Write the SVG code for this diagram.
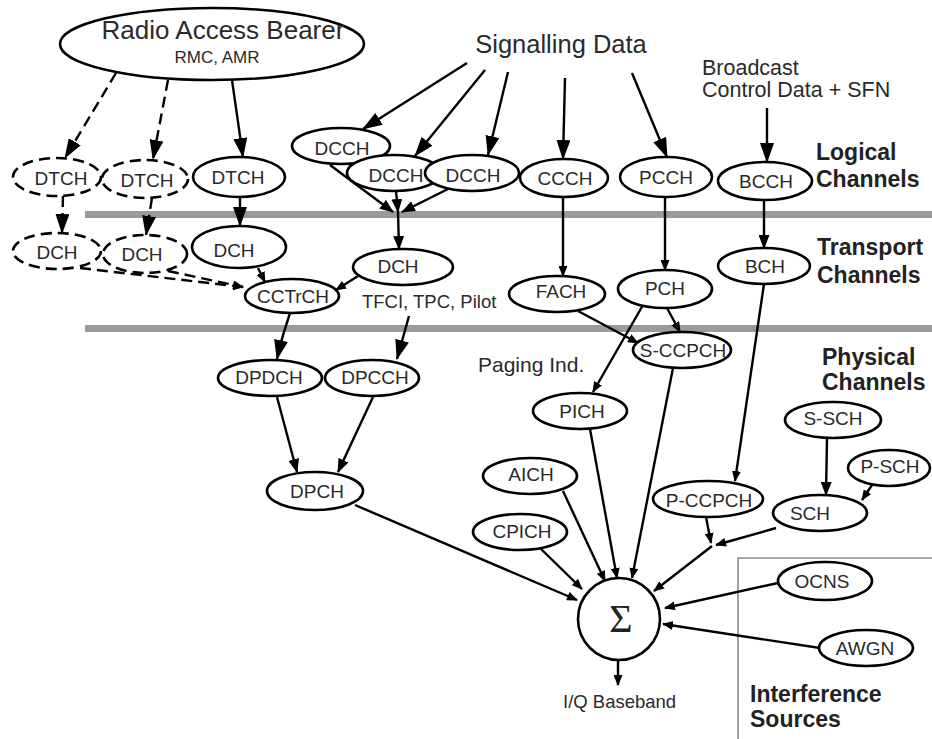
<svg xmlns="http://www.w3.org/2000/svg" width="932" height="739" viewBox="0 0 932 739">
  <style>
    .node { fill: #fff; stroke: #000; stroke-width: 2.6; }
    .dash { stroke-dasharray: 11 6; }
    .lbl { font-family: "Liberation Sans", Arial, sans-serif; font-size: 19px; fill: #2a2a2a; text-anchor: middle; }
    .note { font-family: "Liberation Sans", Arial, sans-serif; fill: #2a2a2a; }
    .hdr { font-family: "Liberation Sans", Arial, sans-serif; font-size: 23px; font-weight: bold; fill: #222; }
    .sep { fill: #9a9a9a; }
    #connectors line, #connectors path { stroke: #000; stroke-width: 2.4; fill: none; }
    .big { marker-end: url(#ah-l); }
    .mid { marker-end: url(#ah-m); }
    .sml { marker-end: url(#ah-s); }
  </style>
  <defs>
    <marker id="ah-l" viewBox="0 0 20 14" markerWidth="20" markerHeight="14" refX="19" refY="7" orient="auto" markerUnits="userSpaceOnUse">
      <path d="M0,0 L20,7 L0,14 z" fill="#000"/>
    </marker>
    <marker id="ah-m" viewBox="0 0 14 11" markerWidth="14" markerHeight="11" refX="13" refY="5.5" orient="auto" markerUnits="userSpaceOnUse">
      <path d="M0,0 L14,5.5 L0,11 z" fill="#000"/>
    </marker>
    <marker id="ah-s" viewBox="0 0 11 9" markerWidth="11" markerHeight="9" refX="10" refY="4.5" orient="auto" markerUnits="userSpaceOnUse">
      <path d="M0,0 L11,4.5 L0,9 z" fill="#000"/>
    </marker>
  </defs>

  <rect width="932" height="739" fill="#fff"/>

  <!-- layer separators -->
  <rect class="sep" x="85" y="211" width="847" height="7"/>
  <rect class="sep" x="85" y="325" width="847" height="7"/>

  <!-- interference sources frame -->
  <path d="M738,739 V558 H932" fill="none" stroke="#8a8a8a" stroke-width="1.6"/>

  <!-- free-standing labels -->
  <text class="note" x="561" y="53" font-size="25.5" text-anchor="middle">Signalling Data</text>
  <text class="note" x="702" y="75" font-size="21.5">Broadcast</text>
  <text class="note" x="702" y="97" font-size="21.5">Control Data + SFN</text>
  <text class="note" x="362" y="308" font-size="18.5">TFCI, TPC, Pilot</text>
  <text class="note" x="478" y="372" font-size="21">Paging Ind.</text>
  <text class="note" x="563" y="708" font-size="18.5">I/Q Baseband</text>
  <text class="hdr" x="816" y="160">Logical</text>
  <text class="hdr" x="816" y="187">Channels</text>
  <text class="hdr" x="817" y="255">Transport</text>
  <text class="hdr" x="817" y="283">Channels</text>
  <text class="hdr" x="822" y="365">Physical</text>
  <text class="hdr" x="822" y="390">Channels</text>
  <text class="hdr" x="750" y="702">Interference</text>
  <text class="hdr" x="750" y="727">Sources</text>

  <g id="connectors">
    <line class="big dash" x1="116" y1="73" x2="65" y2="158"/>
    <line class="big dash" x1="168" y1="80" x2="153" y2="159"/>
    <line class="big" x1="232" y1="80" x2="243" y2="157"/>
    <line class="big" x1="467" y1="63" x2="363" y2="129"/>
    <line class="big" x1="485" y1="70" x2="415" y2="156"/>
    <line class="big" x1="508" y1="72" x2="488" y2="155"/>
    <line class="big" x1="565" y1="78" x2="563" y2="159"/>
    <line class="big" x1="632" y1="73" x2="667" y2="157"/>
    <line class="big" x1="767" y1="108" x2="767" y2="162"/>
    <line class="big dash" x1="63" y1="196" x2="62" y2="233"/>
    <line class="big dash" x1="152" y1="198" x2="146" y2="235"/>
    <line class="big" x1="240" y1="197" x2="240" y2="226"/>
    <line class="mid" x1="330" y1="165" x2="393" y2="212"/>
    <line class="mid" x1="396" y1="191" x2="398" y2="212"/>
    <line class="mid" x1="448" y1="189" x2="402" y2="212"/>
    <line class="mid" x1="398" y1="212" x2="399" y2="249"/>
    <line class="sml dash" x1="80" y1="268" x2="243" y2="287"/>
    <line class="sml dash" x1="168" y1="271" x2="243" y2="287"/>
    <line class="sml" x1="258" y1="268" x2="265" y2="282"/>
    <line class="sml" x1="358" y1="276" x2="336" y2="290"/>
    <path class="big" d="M290,313 Q282,336 277,359"/>
    <line class="big" x1="409" y1="316" x2="397" y2="359"/>
    <line class="mid" x1="277" y1="397" x2="297" y2="472"/>
    <line class="mid" x1="373" y1="397" x2="338" y2="472"/>
    <line class="sml" x1="355" y1="505" x2="577" y2="600"/>
    <line class="sml" x1="563" y1="197" x2="563" y2="276"/>
    <line class="sml" x1="665" y1="198" x2="665" y2="270"/>
    <line class="mid" x1="764" y1="200" x2="764" y2="248"/>
    <line class="sml" x1="578" y1="311" x2="638" y2="343"/>
    <line class="sml" x1="667" y1="308" x2="680" y2="332"/>
    <line class="sml" x1="643" y1="305" x2="593" y2="392"/>
    <line class="sml" x1="764" y1="284" x2="735" y2="481"/>
    <line class="sml" x1="673" y1="368" x2="632" y2="578"/>
    <line class="sml" x1="590" y1="429" x2="617" y2="578"/>
    <line class="sml" x1="563" y1="491" x2="605" y2="581"/>
    <line class="sml" x1="540" y1="548" x2="582" y2="589"/>
    <line class="mid" x1="827" y1="438" x2="826" y2="495"/>
    <line class="sml" x1="872" y1="485" x2="862" y2="500"/>
    <line class="sml" x1="706" y1="517" x2="711" y2="543"/>
    <line class="sml" x1="776" y1="528" x2="716" y2="545"/>
    <line class="sml" x1="712" y1="546" x2="654" y2="591"/>
    <line class="sml" x1="778" y1="583" x2="665" y2="608"/>
    <line class="sml" x1="820" y1="648" x2="663" y2="624"/>
    <line class="sml" x1="618" y1="660" x2="618" y2="685"/>
  </g>

  <!-- radio access bearer -->
  <g id="rab">
    <ellipse class="node" cx="212" cy="44" rx="152" ry="36"/>
    <text class="note" x="223" y="39" font-size="26" text-anchor="middle">Radio Access Bearer</text>
    <text class="note" x="217" y="63" font-size="17" text-anchor="middle">RMC, AMR</text>
  </g>

  <!-- logical channels -->
  <g id="dtch1"><ellipse class="node dash" cx="57" cy="177" rx="44" ry="19"/><text class="lbl" x="61" y="185">DTCH</text></g>
  <g id="dtch2"><ellipse class="node dash" cx="145" cy="179" rx="43" ry="19"/><text class="lbl" x="147" y="187">DTCH</text></g>
  <g id="dtch3"><ellipse class="node" cx="239" cy="177" rx="46" ry="20"/><text class="lbl" x="238" y="184">DTCH</text></g>
  <g id="dcch1"><ellipse class="node" cx="341" cy="146" rx="49" ry="18"/><text class="lbl" x="342" y="155">DCCH</text></g>
  <g id="dcch2"><ellipse class="node" cx="394" cy="173" rx="47" ry="18"/><text class="lbl" x="396" y="182">DCCH</text></g>
  <g id="dcch3"><ellipse class="node" cx="472" cy="173" rx="47" ry="18"/><text class="lbl" x="473" y="182">DCCH</text></g>
  <g id="ccch"><ellipse class="node" cx="564" cy="178" rx="44" ry="19"/><text class="lbl" x="565" y="185">CCCH</text></g>
  <g id="pcch"><ellipse class="node" cx="666" cy="177" rx="46" ry="20"/><text class="lbl" x="666" y="184">PCCH</text></g>
  <g id="bcch"><ellipse class="node" cx="765" cy="181" rx="47" ry="19"/><text class="lbl" x="766" y="188">BCCH</text></g>

  <!-- transport channels -->
  <g id="dch1"><ellipse class="node dash" cx="57" cy="251" rx="44" ry="18"/><text class="lbl" x="57" y="259">DCH</text></g>
  <g id="dch2"><ellipse class="node dash" cx="145" cy="254" rx="42" ry="19"/><text class="lbl" x="142" y="261">DCH</text></g>
  <g id="dch3"><ellipse class="node" cx="239" cy="247" rx="47" ry="21"/><text class="lbl" x="234" y="257">DCH</text></g>
  <g id="dch4"><ellipse class="node" cx="403" cy="267" rx="50" ry="18"/><text class="lbl" x="398" y="273">DCH</text></g>
  <g id="cctrch"><ellipse class="node" cx="292" cy="296" rx="47" ry="17"/><text class="lbl" x="293" y="303">CCTrCH</text></g>
  <g id="fach"><ellipse class="node" cx="557" cy="294" rx="48" ry="18"/><text class="lbl" x="561" y="298">FACH</text></g>
  <g id="pch"><ellipse class="node" cx="665" cy="289" rx="47" ry="19"/><text class="lbl" x="665" y="295">PCH</text></g>
  <g id="bch"><ellipse class="node" cx="764" cy="266" rx="46" ry="18"/><text class="lbl" x="765" y="273">BCH</text></g>

  <!-- physical channels -->
  <g id="dpdch"><ellipse class="node" cx="270" cy="378" rx="52" ry="18"/><text class="lbl" x="269" y="384">DPDCH</text></g>
  <g id="dpcch"><ellipse class="node" cx="372" cy="378" rx="47" ry="18"/><text class="lbl" x="375" y="384">DPCCH</text></g>
  <g id="sccpch"><ellipse class="node" cx="682" cy="350" rx="49" ry="18"/><text class="lbl" x="683" y="357">S-CCPCH</text></g>
  <g id="pich"><ellipse class="node" cx="580" cy="411" rx="47" ry="18"/><text class="lbl" x="582" y="418">PICH</text></g>
  <g id="aich"><ellipse class="node" cx="530" cy="476" rx="47" ry="18"/><text class="lbl" x="531" y="481">AICH</text></g>
  <g id="cpich"><ellipse class="node" cx="520" cy="532" rx="47" ry="18"/><text class="lbl" x="522" y="538">CPICH</text></g>
  <g id="pccpch"><ellipse class="node" cx="708" cy="499" rx="55" ry="18"/><text class="lbl" x="709" y="507">P-CCPCH</text></g>
  <g id="dpch"><ellipse class="node" cx="315" cy="491" rx="48" ry="19"/><text class="lbl" x="317" y="498">DPCH</text></g>
  <g id="ssch"><ellipse class="node" cx="833" cy="420" rx="48" ry="18"/><text class="lbl" x="833" y="425">S-SCH</text></g>
  <g id="psch"><ellipse class="node" cx="889" cy="468" rx="41" ry="18"/><text class="lbl" x="890" y="473">P-SCH</text></g>
  <g id="sch"><ellipse class="node" cx="820" cy="513" rx="47" ry="18"/><text class="lbl" x="810" y="520">SCH</text></g>

  <!-- interference sources -->
  <g id="ocns"><ellipse class="node" cx="825" cy="581" rx="47" ry="19"/><text class="lbl" x="822" y="588">OCNS</text></g>
  <g id="awgn"><ellipse class="node" cx="866" cy="648" rx="47" ry="18"/><text class="lbl" x="865" y="655">AWGN</text></g>

  <!-- summing node -->
  <g id="sum">
    <circle class="node" cx="619" cy="619" r="41"/>
    <text x="621" y="632" font-family="'Liberation Serif', 'Times New Roman', serif" font-size="40" fill="#222" text-anchor="middle">Σ</text>
  </g>
</svg>
